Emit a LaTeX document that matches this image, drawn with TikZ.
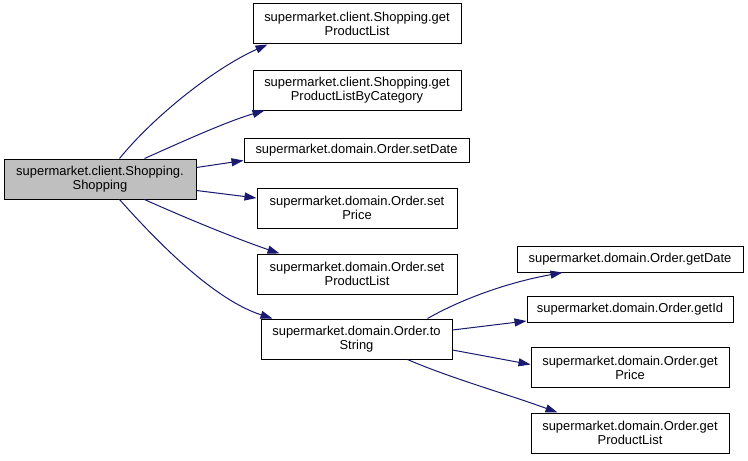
\documentclass[tikz,border=0pt]{standalone}
\usepackage{fontspec}
\setmainfont{Liberation Sans}
\usetikzlibrary{arrows.meta,calc}
\definecolor{edgec}{HTML}{191970}
\definecolor{rootfill}{HTML}{BFBFBF}
\begin{document}
\begin{tikzpicture}[x=0.75pt,y=-0.75pt,
  box/.style={draw=black, line width=0.75pt, fill=white, align=center, inner sep=0pt,
    font=\fontsize{9.7}{10.5}\selectfont},
  sz/.style 2 args={minimum width=#1*0.75pt, minimum height=#2*0.75pt},
  call/.style={draw=edgec, line width=0.75pt, -{Triangle[length=9pt,width=6pt]}}]
\useasboundingbox (0,0) rectangle (748,460);

\node[box, sz={192}{40}, fill=rootfill] (root) at (100,179) {supermarket.client.Shopping.\\Shopping};
\node[box, sz={208}{40}] (gpl) at (357,24) {supermarket.client.Shopping.get\\ProductList};
\node[box, sz={208}{40}] (gplbc) at (357,90) {supermarket.client.Shopping.get\\ProductListByCategory};
\node[box, sz={225}{24}] (setdate) at (356.5,150) {supermarket.domain.Order.setDate};
\node[box, sz={200}{40}] (setprice) at (357,208) {supermarket.domain.Order.set\\Price};
\node[box, sz={200}{40}] (setpl) at (357,274) {supermarket.domain.Order.set\\ProductList};
\node[box, sz={191}{40}] (tostr) at (356.5,339) {supermarket.domain.Order.to\\String};
\node[box, sz={226}{26}] (getdate) at (630,259) {supermarket.domain.Order.getDate};
\node[box, sz={206}{26}] (getid) at (630,309) {supermarket.domain.Order.getId};
\node[box, sz={198}{40}] (getprice) at (630,367.5) {supermarket.domain.Order.get\\Price};
\node[box, sz={198}{40}] (getpl) at (630,433) {supermarket.domain.Order.get\\ProductList};

\draw[call] ($(root.north west)+(116,0)$) .. controls (155,115) and (215,68) .. ($(gpl.south west)+(15,0)$);
\draw[call] ($(root.north west)+(141,0)$) .. controls (175,145) and (225,122) .. ($(gplbc.south west)+(12,0)$);
\draw[call] ($(root.north east)+(0,9)$) -- ($(setdate.south west)+(0,-2)$);
\draw[call] ($(root.south east)+(0,-9)$) -- ($(setprice.west)+(0,-10)$);
\draw[call] ($(root.south west)+(141,0)$) .. controls (190,220) and (240,240) .. ($(setpl.north west)+(23,0)$);
\draw[call] ($(root.south west)+(116,0)$) .. controls (160,245) and (215,300) .. ($(tostr.north west)+(12,0)$);
\draw[call] ($(tostr.north west)+(167,0)$) .. controls (460,300) and (505,283) .. ($(getdate.south west)+(46,0)$);
\draw[call] ($(tostr.east)+(0,-9)$) -- ($(getid.west)+(0,12)$);
\draw[call] ($(tostr.east)+(0,11)$) -- ($(getprice.west)+(0,-3)$);
\draw[call] ($(tostr.south west)+(147,0)$) .. controls (450,378) and (510,395) .. ($(getpl.north west)+(27,0)$);
\end{tikzpicture}
\end{document}
